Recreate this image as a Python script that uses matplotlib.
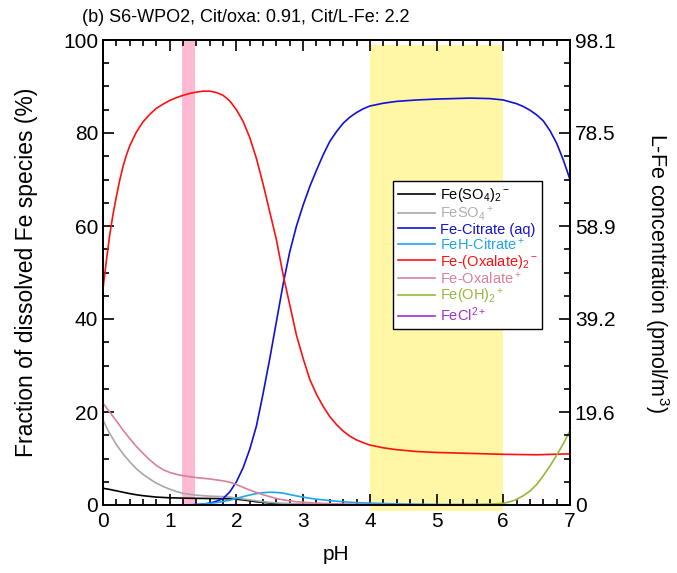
import matplotlib
matplotlib.use("Agg")
import matplotlib.pyplot as plt
from matplotlib.ticker import MultipleLocator

plt.rcParams['font.family'] = ['Liberation Sans', 'DejaVu Sans']
plt.rcParams['mathtext.fontset'] = 'custom'
plt.rcParams['mathtext.rm'] = 'Liberation Sans'
plt.rcParams['mathtext.it'] = 'Liberation Sans:italic'
plt.rcParams['mathtext.default'] = 'regular'

# ---- data ----
ph_oxa2 = [0, 0.05, 0.1, 0.15, 0.2, 0.25, 0.3, 0.35, 0.4, 0.5, 0.6, 0.7, 0.8, 0.9, 1.0, 1.1,
           1.2, 1.3, 1.4, 1.5, 1.6, 1.7, 1.8, 1.9, 2.0, 2.1, 2.2, 2.3, 2.4, 2.5, 2.6, 2.7,
           2.8, 2.9, 3.0, 3.1, 3.2, 3.3, 3.4, 3.5, 3.6, 3.7, 3.8, 3.9, 4.0, 4.2, 4.4, 4.7,
           5.0, 5.5, 6.0, 6.5, 7.0]
fe_oxa2 = [46.5, 52.5, 58, 62.5, 66.3, 69.8, 72.8, 75.2, 77.2, 80.2, 82.4, 84.0, 85.3, 86.2, 87.0, 87.6,
           88.1, 88.5, 88.8, 89.0, 89.0, 88.7, 88.1, 86.9, 85.0, 82.5, 79.0, 74.5, 69, 63, 57, 49.5,
           43, 36.5, 31.5, 27, 23.8, 21.2, 19.0, 17.3, 15.9, 14.8, 14.0, 13.4, 12.9, 12.3, 11.9, 11.5,
           11.3, 11.1, 10.9, 10.8, 11.0]

ph_cit = [0, 1.3, 1.4, 1.5, 1.6, 1.7, 1.8, 1.9, 2.0, 2.1, 2.2, 2.3, 2.4, 2.5, 2.6, 2.7, 2.8,
          2.9, 3.0, 3.1, 3.2, 3.3, 3.4, 3.5, 3.6, 3.7, 3.8, 3.9, 4.0, 4.2, 4.4, 4.7, 5.0, 5.5,
          5.8, 6.0, 6.2, 6.3, 6.4, 6.5, 6.6, 6.7, 6.8, 6.9, 7.0]
fe_cit = [0, 0, 0.1, 0.2, 0.4, 0.8, 1.4, 2.8, 5.0, 8.0, 12.0, 17, 24, 31.5, 39.5, 47.5, 54.5,
          60, 64.5, 68.5, 72, 75.3, 78.2, 80.3, 82.1, 83.4, 84.4, 85.2, 85.8, 86.4, 86.8, 87.1, 87.3, 87.5,
          87.4, 87.1, 86.3, 85.7, 84.9, 83.9, 82.6, 80.5, 77.8, 74.2, 70]

ph_hcit = [0, 1.2, 1.4, 1.5, 1.6, 1.7, 1.8, 1.9, 2.0, 2.1, 2.2, 2.3, 2.4, 2.5, 2.6, 2.7, 2.8,
           2.9, 3.0, 3.1, 3.2, 3.4, 3.6, 3.8, 4.0, 4.5, 5.0, 7.0]
feh_cit = [0, 0, 0.1, 0.2, 0.35, 0.5, 0.75, 1.05, 1.4, 1.8, 2.15, 2.45, 2.65, 2.75, 2.7, 2.55, 2.25,
           1.95, 1.7, 1.45, 1.25, 0.95, 0.7, 0.5, 0.4, 0.2, 0.1, 0]

ph_oxa1 = [0, 0.1, 0.2, 0.3, 0.4, 0.5, 0.6, 0.7, 0.8, 0.9, 1.0, 1.1, 1.2, 1.4, 1.6, 1.8, 1.9,
           2.0, 2.1, 2.2, 2.3, 2.4, 2.5, 2.6, 2.7, 2.9, 3.2, 3.6, 4.0, 5.0, 7.0]
fe_oxa1 = [21.9, 20, 18.1, 16.1, 14.3, 12.6, 11.1, 9.7, 8.5, 7.6, 7.0, 6.6, 6.3, 5.9, 5.6, 5.2, 4.9,
           4.4, 3.8, 3.2, 2.7, 2.2, 1.8, 1.4, 1.1, 0.7, 0.4, 0.2, 0.1, 0, 0]

ph_so4 = [0, 0.05, 0.1, 0.2, 0.3, 0.4, 0.5, 0.6, 0.7, 0.8, 0.9, 1.0, 1.1, 1.2, 1.4, 1.6, 1.8,
          1.9, 2.0, 2.1, 2.2, 2.3, 2.4, 2.6, 2.8, 3.0, 3.5, 7.0]
fe_so4 = [18.3, 16.8, 15.4, 13.0, 11.0, 9.3, 7.8, 6.6, 5.6, 4.7, 4.0, 3.4, 2.9, 2.5, 2.1, 1.9, 1.8,
          1.7, 1.5, 1.3, 1.1, 0.9, 0.7, 0.45, 0.3, 0.2, 0.05, 0]

ph_so42 = [0, 0.1, 0.2, 0.3, 0.4, 0.5, 0.6, 0.8, 1.0, 1.3, 1.6, 1.9, 2.0, 2.1, 2.2, 2.3, 2.45,
           2.6, 2.8, 3.0, 7.0]
fe_so42 = [3.6, 3.35, 3.05, 2.75, 2.45, 2.2, 2.0, 1.7, 1.55, 1.45, 1.4, 1.35, 1.25, 1.1, 0.9, 0.7, 0.5,
           0.3, 0.18, 0.1, 0]

ph_oh2 = [0, 5.0, 5.5, 5.8, 6.0, 6.1, 6.2, 6.3, 6.4, 6.5, 6.6, 6.7, 6.8, 6.9, 7.0]
fe_oh2 = [0, 0, 0.1, 0.2, 0.35, 0.7, 1.2, 2.0, 3.0, 4.4, 6.3, 8.4, 10.7, 13.2, 16]

ph_cl = [0, 7.0]
fe_cl = [0, 0]

right_ticks = ['0', '19.6', '39.2', '58.9', '78.5', '98.1']
pink_band = (1.19, 1.38)
yellow_band = (4.0, 6.0)

# ---- figure ----
fig = plt.figure(figsize=(6.77, 5.73), dpi=100)
ax = fig.add_axes([103/677, 1-505/573, 467/677, 465/573])

ax.axvspan(*pink_band, ymin=0, ymax=1, color='#ffb9d2', lw=0, zorder=0)
ax.axvspan(*yellow_band, ymin=-0.012, ymax=0.99, color='#fff7a6', lw=0, zorder=0, clip_on=False)

lw = 1.2
series = [
    (ph_so42, fe_so42, 'black', 'black', r'Fe(SO$_4$)$_2$$^-$'),
    (ph_so4, fe_so4, '#a8a8a8', '#b0b0b0', r'FeSO$_4$$^+$'),
    (ph_cit, fe_cit, '#1010d8', '#1010d8', 'Fe-Citrate (aq)'),
    (ph_hcit, feh_cit, '#1aa7ee', '#1aa7ee', r'FeH-Citrate$^+$'),
    (ph_oxa2, fe_oxa2, '#ff1010', '#ff1010', r'Fe-(Oxalate)$_2$$^-$'),
    (ph_oxa1, fe_oxa1, '#d9809a', '#d9809a', r'Fe-Oxalate$^+$'),
    (ph_oh2, fe_oh2, '#95b83a', '#95b83a', r'Fe(OH)$_2$$^+$'),
    (ph_cl, fe_cl, '#a030d0', '#a030d0', r'FeCl$^{2+}$'),
]
handles = []
for x, y, c, tc, lab in series:
    h, = ax.plot(x, y, color=c, lw=lw, label=lab, zorder=3, clip_on=False,
                 solid_joinstyle='round')
    handles.append(h)

ax.set_xlim(0, 7)
ax.set_ylim(0, 100)
ax.xaxis.set_major_locator(MultipleLocator(1))
ax.xaxis.set_minor_locator(MultipleLocator(0.2))
ax.yaxis.set_major_locator(MultipleLocator(20))
ax.yaxis.set_minor_locator(MultipleLocator(5))
ax.tick_params(which='both', direction='in', top=True, right=False, labelsize=15, width=1.2, colors='black')
ax.tick_params(which='major', length=8)
ax.tick_params(which='minor', length=4)
ax.tick_params(axis='x', pad=5)
for s in ax.spines.values():
    s.set_linewidth(1.3)

ax.set_xlabel('pH', fontsize=15, labelpad=10)
ax.set_ylabel('Fraction of dissolved Fe species (%)', fontsize=16.5, labelpad=18)

ax2 = ax.twinx()
ax2.set_ylim(0, 100)
ax2.set_yticks([0, 20, 40, 60, 80, 100], labels=right_ticks)
ax2.yaxis.set_minor_locator(MultipleLocator(5))
ax2.tick_params(which='both', direction='in', labelsize=15, width=1.2)
ax2.tick_params(which='major', length=8)
ax2.tick_params(which='minor', length=4)
for s in ax2.spines.values():
    s.set_linewidth(1.3)
ax2.set_ylabel(r'L-Fe concentration (pmol/m$^3$)', fontsize=15.5, rotation=270, labelpad=40)

leg = ax.legend(handles=handles, loc='upper left', bbox_to_anchor=((393-103)/467, (505-181)/465),
                fontsize=10.5, frameon=True, fancybox=False, edgecolor='black',
                framealpha=1, borderpad=0.35, labelspacing=0.0, handlelength=2.5,
                handletextpad=0.35, borderaxespad=0)
leg.get_frame().set_linewidth(1.0)
leg.set_zorder(5)
for t, (x, y, c, tc, lab) in zip(leg.get_texts(), series):
    t.set_color(tc)

fig.text(82/677, 1-18/573, '(b) S6-WPO2, Cit/oxa: 0.91, Cit/L-Fe: 2.2', fontsize=13,
         ha='left', va='center')

fig.savefig('out.png', dpi=100)
